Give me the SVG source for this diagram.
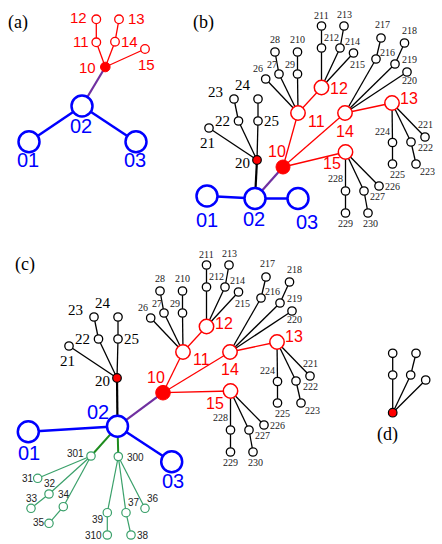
<svg xmlns="http://www.w3.org/2000/svg" width="442" height="544" viewBox="0 0 442 544">
<style>
.k{stroke:#000;stroke-width:1.3;fill:none}
.kt{stroke:#000;stroke-width:2.2;fill:none}
.r{stroke:#f00;stroke-width:1.3;fill:none}
.b{stroke:#00f;stroke-width:2.5;fill:none}
.p{stroke:#7030a0;stroke-width:2.2;fill:none}
.g{stroke:#1e8c1e;stroke-width:2;fill:none}
.gs{stroke:#3aa06a;stroke-width:1.2;fill:none}
.sn{fill:#fff;stroke:#000;stroke-width:1.3}
.rn{fill:#fff;stroke:#f00;stroke-width:1.5}
.rs{fill:#fff;stroke:#f00;stroke-width:1.3}
.rf{fill:#f00;stroke:#f00;stroke-width:1}
.rk{fill:#f00;stroke:#000;stroke-width:1.2}
.bn{fill:#fff;stroke:#00f;stroke-width:2.5}
.gn{fill:#fff;stroke:#3aa06a;stroke-width:1.2}
.ts{font-family:"Liberation Serif",serif;font-size:10px;fill:#222}
.tm{font-family:"Liberation Serif",serif;font-size:15px;fill:#000}
.tr{font-family:"Liberation Sans",sans-serif;font-size:16px;fill:#f00}
.tra{font-family:"Liberation Sans",sans-serif;font-size:15px;fill:#f00}
.tb{font-family:"Liberation Sans",sans-serif;font-size:20px;fill:#00f}
.tg{font-family:"Liberation Sans",sans-serif;font-size:10px;fill:#222}
.tp{font-family:"Liberation Serif",serif;font-size:18px;fill:#000}
</style>

<!-- ============ Panel (a) ============ -->
<text class="tp" x="8" y="28">(a)</text>
<g id="a-connectors">
<line class="r" x1="105.3" y1="67" x2="96.3" y2="42.3"/>
<line class="r" x1="105.3" y1="67" x2="115" y2="41.7"/>
<line class="r" x1="105.3" y1="67" x2="145" y2="49"/>
<line class="r" x1="96.3" y1="42.3" x2="96.3" y2="19.3"/>
<line class="r" x1="115" y1="41.7" x2="119" y2="19.3"/>
<line class="p" x1="105.3" y1="67" x2="82" y2="106"/>
<line class="b" x1="82" y1="106" x2="29" y2="141.7"/>
<line class="b" x1="82" y1="106" x2="136" y2="141.7"/>
</g>
<g id="a-n12"><circle class="rs" cx="96.3" cy="19.3" r="4.3"/><text class="tra" x="70" y="23">12</text></g>
<g id="a-n13"><circle class="rs" cx="119" cy="19.3" r="4.3"/><text class="tra" x="128" y="24">13</text></g>
<g id="a-n11"><circle class="rs" cx="96.3" cy="42.3" r="4.3"/><text class="tra" x="73" y="47">11</text></g>
<g id="a-n14"><circle class="rs" cx="115" cy="41.7" r="4.3"/><text class="tra" x="121" y="47">14</text></g>
<g id="a-n15"><circle class="rs" cx="145" cy="49" r="4.3"/><text class="tra" x="138" y="70">15</text></g>
<g id="a-n10"><circle class="rf" cx="105.3" cy="67" r="4.8"/><text class="tra" x="79" y="73">10</text></g>
<g id="a-n02"><circle class="bn" cx="82" cy="106" r="10.5"/><text class="tb" x="70" y="133">02</text></g>
<g id="a-n01"><circle class="bn" cx="29" cy="141.7" r="10.5"/><text class="tb" x="17" y="167">01</text></g>
<g id="a-n03"><circle class="bn" cx="136" cy="141.7" r="10.5"/><text class="tb" x="124" y="167">03</text></g>

<!-- ============ Panel (b) ============ -->
<text class="tp" x="193" y="28">(b)</text>
<g id="b-connectors">
<line class="k" x1="257" y1="160" x2="209" y2="128"/>
<line class="k" x1="257" y1="160" x2="238.5" y2="121"/>
<line class="k" x1="257" y1="160" x2="258" y2="121"/>
<line class="k" x1="238.5" y1="121" x2="234" y2="99"/>
<line class="k" x1="258" y1="121" x2="258" y2="99"/>
<line class="kt" x1="257" y1="160" x2="255" y2="198.5"/>
<line class="p" x1="283" y1="167" x2="255" y2="198.5"/>
<line class="b" x1="207" y1="196" x2="255" y2="198.5"/>
<line class="b" x1="255" y1="198.5" x2="298" y2="198.5"/>
<line class="r" x1="283" y1="167" x2="298" y2="113"/>
<line class="r" x1="283" y1="167" x2="345" y2="113"/>
<line class="r" x1="283" y1="167" x2="345.5" y2="152"/>
</g>
<g id="b-sub">
<g id="b-sub-connectors">
<line class="r" x1="345" y1="113" x2="392" y2="103"/>
<line class="r" x1="298" y1="113" x2="321.5" y2="87.5"/>
<line class="k" x1="298" y1="113" x2="265.7" y2="79"/>
<line class="k" x1="298" y1="113" x2="279" y2="74"/>
<line class="k" x1="298" y1="113" x2="297.5" y2="74"/>
<line class="k" x1="279" y1="74" x2="275" y2="52"/>
<line class="k" x1="297.5" y1="74" x2="297.5" y2="52"/>
<line class="k" x1="321.5" y1="87.5" x2="321.5" y2="48"/>
<line class="k" x1="321.5" y1="87.5" x2="340" y2="48"/>
<line class="k" x1="321.5" y1="87.5" x2="353.5" y2="53"/>
<line class="k" x1="321.5" y1="48" x2="321.5" y2="26"/>
<line class="k" x1="340" y1="48" x2="344" y2="26"/>
<line class="k" x1="345" y1="113" x2="376" y2="59"/>
<line class="k" x1="345" y1="113" x2="395" y2="64"/>
<line class="k" x1="345" y1="113" x2="407" y2="72"/>
<line class="k" x1="376" y1="59" x2="381" y2="38"/>
<line class="k" x1="395" y1="64" x2="404.5" y2="43"/>
<line class="k" x1="392" y1="103" x2="392.5" y2="142.5"/>
<line class="k" x1="392" y1="103" x2="411" y2="142"/>
<line class="k" x1="392" y1="103" x2="425" y2="137"/>
<line class="k" x1="392.5" y1="142.5" x2="392.5" y2="164"/>
<line class="k" x1="411" y1="142" x2="416" y2="164"/>
<line class="k" x1="345.5" y1="152" x2="345.5" y2="191"/>
<line class="k" x1="345.5" y1="152" x2="364" y2="191"/>
<line class="k" x1="345.5" y1="152" x2="379" y2="186"/>
<line class="k" x1="345.5" y1="191" x2="345.5" y2="213"/>
<line class="k" x1="364" y1="191" x2="368" y2="213"/>
</g>
<g id="b-n11"><circle class="rn" cx="298" cy="113" r="7.2"/><text class="tr" x="308" y="127">11</text></g>
<g id="b-n12"><circle class="rn" cx="321.5" cy="87.5" r="7.2"/><text class="tr" x="330" y="93.5">12</text></g>
<g id="b-n13"><circle class="rn" cx="392" cy="103" r="7.2"/><text class="tr" x="400" y="103.5">13</text></g>
<g id="b-n14"><circle class="rn" cx="345" cy="113" r="7.2"/><text class="tr" x="336" y="137">14</text></g>
<g id="b-n15"><circle class="rn" cx="345.5" cy="152" r="7.2"/><text class="tr" x="323" y="169">15</text></g>
<g id="b-n26"><circle class="sn" cx="265.7" cy="79" r="4.2"/><text class="ts" x="253" y="72">26</text></g>
<g id="b-n27"><circle class="sn" cx="279" cy="74" r="4.2"/><text class="ts" x="267" y="68">27</text></g>
<g id="b-n28"><circle class="sn" cx="275" cy="52" r="4.2"/><text class="ts" x="270" y="43">28</text></g>
<g id="b-n29"><circle class="sn" cx="297.5" cy="74" r="4.2"/><text class="ts" x="285" y="68">29</text></g>
<g id="b-n210"><circle class="sn" cx="297.5" cy="52" r="4.2"/><text class="ts" x="290" y="43">210</text></g>
<g id="b-n211"><circle class="sn" cx="321.5" cy="26" r="4.2"/><text class="ts" x="314" y="18.5">211</text></g>
<g id="b-n212"><circle class="sn" cx="321.5" cy="48" r="4.2"/><text class="ts" x="324" y="41">212</text></g>
<g id="b-n213"><circle class="sn" cx="344" cy="26" r="4.2"/><text class="ts" x="337" y="18">213</text></g>
<g id="b-n214"><circle class="sn" cx="340" cy="48" r="4.2"/><text class="ts" x="345" y="45">214</text></g>
<g id="b-n215"><circle class="sn" cx="353.5" cy="53" r="4.2"/><text class="ts" x="350" y="68">215</text></g>
<g id="b-n216"><circle class="sn" cx="376" cy="59" r="4.2"/><text class="ts" x="380" y="56">216</text></g>
<g id="b-n217"><circle class="sn" cx="381" cy="38" r="4.2"/><text class="ts" x="375" y="28">217</text></g>
<g id="b-n218"><circle class="sn" cx="404.5" cy="43" r="4.2"/><text class="ts" x="402" y="34">218</text></g>
<g id="b-n219"><circle class="sn" cx="395" cy="64" r="4.2"/><text class="ts" x="402" y="63">219</text></g>
<g id="b-n220"><circle class="sn" cx="407" cy="72" r="4.2"/><text class="ts" x="402" y="84">220</text></g>
<g id="b-n221"><circle class="sn" cx="425" cy="137" r="4.2"/><text class="ts" x="418" y="128">221</text></g>
<g id="b-n222"><circle class="sn" cx="411" cy="142" r="4.2"/><text class="ts" x="418" y="151">222</text></g>
<g id="b-n223"><circle class="sn" cx="416" cy="164" r="4.2"/><text class="ts" x="420" y="175">223</text></g>
<g id="b-n224"><circle class="sn" cx="392.5" cy="142.5" r="4.2"/><text class="ts" x="375" y="135">224</text></g>
<g id="b-n225"><circle class="sn" cx="392.5" cy="164" r="4.2"/><text class="ts" x="390" y="178">225</text></g>
<g id="b-n226"><circle class="sn" cx="379" cy="186" r="4.2"/><text class="ts" x="385" y="190">226</text></g>
<g id="b-n227"><circle class="sn" cx="364" cy="191" r="4.2"/><text class="ts" x="370" y="200">227</text></g>
<g id="b-n228"><circle class="sn" cx="345.5" cy="191" r="4.2"/><text class="ts" x="328" y="182">228</text></g>
<g id="b-n229"><circle class="sn" cx="345.5" cy="213" r="4.2"/><text class="ts" x="338" y="227">229</text></g>
<g id="b-n230"><circle class="sn" cx="368" cy="213" r="4.2"/><text class="ts" x="363" y="227">230</text></g>
</g>
<g id="b-n21"><circle class="sn" cx="209" cy="128" r="4.2"/><text class="tm" x="200" y="148">21</text></g>
<g id="b-n22"><circle class="sn" cx="238.5" cy="121" r="4.2"/><text class="tm" x="215" y="126">22</text></g>
<g id="b-n23"><circle class="sn" cx="234" cy="99" r="4.2"/><text class="tm" x="208" y="97">23</text></g>
<g id="b-n24"><circle class="sn" cx="258" cy="99" r="4.2"/><text class="tm" x="235" y="90">24</text></g>
<g id="b-n25"><circle class="sn" cx="258" cy="121" r="4.2"/><text class="tm" x="264" y="126">25</text></g>
<g id="b-n20"><circle class="rk" cx="257" cy="160" r="4.3"/><text class="tm" x="235" y="168">20</text></g>
<g id="b-n10"><circle class="rf" cx="283" cy="167" r="7"/><text class="tr" x="268" y="157">10</text></g>
<g id="b-n01"><circle class="bn" cx="207" cy="196" r="10.5"/><text class="tb" x="196" y="227">01</text></g>
<g id="b-n02"><circle class="bn" cx="255" cy="198.5" r="10.5"/><text class="tb" x="243" y="226">02</text></g>
<g id="b-n03"><circle class="bn" cx="298" cy="198.5" r="10.5"/><text class="tb" x="296" y="229">03</text></g>

<!-- ============ Panel (c) ============ -->
<text class="tp" x="15" y="270">(c)</text>
<g id="c-connectors">
<line class="r" x1="163" y1="392.7" x2="183" y2="352"/>
<line class="r" x1="163" y1="392.7" x2="230" y2="352"/>
<line class="r" x1="163" y1="392.7" x2="230.5" y2="391"/>
<line class="p" x1="163" y1="392.7" x2="117.5" y2="426.3"/>
<line class="kt" x1="117.5" y1="426.3" x2="117" y2="378"/>
<line class="b" x1="117.5" y1="426.3" x2="28.3" y2="431.7"/>
<line class="b" x1="117.5" y1="426.3" x2="171.7" y2="461.8"/>
<line class="g" x1="117.5" y1="426.3" x2="91" y2="456"/>
<line class="g" x1="117.5" y1="426.3" x2="118.3" y2="456.5"/>
<line class="gs" x1="91" y1="456" x2="37.7" y2="478.3"/>
<line class="gs" x1="91" y1="456" x2="49" y2="494"/>
<line class="gs" x1="91" y1="456" x2="63.3" y2="506.7"/>
<line class="gs" x1="49" y1="494" x2="31" y2="508.3"/>
<line class="gs" x1="63.3" y1="506.7" x2="49" y2="523.3"/>
<line class="gs" x1="118.3" y1="456.5" x2="145" y2="508.3"/>
<line class="gs" x1="118.3" y1="456.5" x2="126" y2="512.7"/>
<line class="gs" x1="118.3" y1="456.5" x2="107.3" y2="512.7"/>
<line class="gs" x1="126" y1="512.7" x2="131" y2="535"/>
<line class="gs" x1="107.3" y1="512.7" x2="107.3" y2="535"/>
<g transform="translate(-140,218)">
<line class="k" x1="257" y1="160" x2="209" y2="128"/>
<line class="k" x1="257" y1="160" x2="238.5" y2="121"/>
<line class="k" x1="257" y1="160" x2="258" y2="121"/>
<line class="k" x1="238.5" y1="121" x2="234" y2="99"/>
<line class="k" x1="258" y1="121" x2="258" y2="99"/>
</g>
<g transform="translate(-115,239)">
<line class="r" x1="345" y1="113" x2="392" y2="103"/>
<line class="r" x1="298" y1="113" x2="321.5" y2="87.5"/>
<line class="k" x1="298" y1="113" x2="265.7" y2="79"/>
<line class="k" x1="298" y1="113" x2="279" y2="74"/>
<line class="k" x1="298" y1="113" x2="297.5" y2="74"/>
<line class="k" x1="279" y1="74" x2="275" y2="52"/>
<line class="k" x1="297.5" y1="74" x2="297.5" y2="52"/>
<line class="k" x1="321.5" y1="87.5" x2="321.5" y2="48"/>
<line class="k" x1="321.5" y1="87.5" x2="340" y2="48"/>
<line class="k" x1="321.5" y1="87.5" x2="353.5" y2="53"/>
<line class="k" x1="321.5" y1="48" x2="321.5" y2="26"/>
<line class="k" x1="340" y1="48" x2="344" y2="26"/>
<line class="k" x1="345" y1="113" x2="376" y2="59"/>
<line class="k" x1="345" y1="113" x2="395" y2="64"/>
<line class="k" x1="345" y1="113" x2="407" y2="72"/>
<line class="k" x1="376" y1="59" x2="381" y2="38"/>
<line class="k" x1="395" y1="64" x2="404.5" y2="43"/>
<line class="k" x1="392" y1="103" x2="392.5" y2="142.5"/>
<line class="k" x1="392" y1="103" x2="411" y2="142"/>
<line class="k" x1="392" y1="103" x2="425" y2="137"/>
<line class="k" x1="392.5" y1="142.5" x2="392.5" y2="164"/>
<line class="k" x1="411" y1="142" x2="416" y2="164"/>
<line class="k" x1="345.5" y1="152" x2="345.5" y2="191"/>
<line class="k" x1="345.5" y1="152" x2="364" y2="191"/>
<line class="k" x1="345.5" y1="152" x2="379" y2="186"/>
<line class="k" x1="345.5" y1="191" x2="345.5" y2="213"/>
<line class="k" x1="364" y1="191" x2="368" y2="213"/>
</g>
</g>
<g transform="translate(-115,239)">
<g id="c-n11"><circle class="rn" cx="298" cy="113" r="7.2"/><text class="tr" x="308" y="126">11</text></g>
<g id="c-n12"><circle class="rn" cx="321.5" cy="87.5" r="7.2"/><text class="tr" x="330" y="90">12</text></g>
<g id="c-n13"><circle class="rn" cx="392" cy="103" r="7.2"/><text class="tr" x="400" y="103">13</text></g>
<g id="c-n14"><circle class="rn" cx="345" cy="113" r="7.2"/><text class="tr" x="336" y="136">14</text></g>
<g id="c-n15"><circle class="rn" cx="345.5" cy="152" r="7.2"/><text class="tr" x="321" y="170">15</text></g>
<g id="c-n26"><circle class="sn" cx="265.7" cy="79" r="4.2"/><text class="ts" x="253" y="72">26</text></g>
<g id="c-n27"><circle class="sn" cx="279" cy="74" r="4.2"/><text class="ts" x="267" y="68">27</text></g>
<g id="c-n28"><circle class="sn" cx="275" cy="52" r="4.2"/><text class="ts" x="270" y="43">28</text></g>
<g id="c-n29"><circle class="sn" cx="297.5" cy="74" r="4.2"/><text class="ts" x="285" y="68">29</text></g>
<g id="c-n210"><circle class="sn" cx="297.5" cy="52" r="4.2"/><text class="ts" x="290" y="43">210</text></g>
<g id="c-n211"><circle class="sn" cx="321.5" cy="26" r="4.2"/><text class="ts" x="314" y="18.5">211</text></g>
<g id="c-n212"><circle class="sn" cx="321.5" cy="48" r="4.2"/><text class="ts" x="324" y="41">212</text></g>
<g id="c-n213"><circle class="sn" cx="344" cy="26" r="4.2"/><text class="ts" x="337" y="18">213</text></g>
<g id="c-n214"><circle class="sn" cx="340" cy="48" r="4.2"/><text class="ts" x="345" y="45">214</text></g>
<g id="c-n215"><circle class="sn" cx="353.5" cy="53" r="4.2"/><text class="ts" x="350" y="68">215</text></g>
<g id="c-n216"><circle class="sn" cx="376" cy="59" r="4.2"/><text class="ts" x="380" y="56">216</text></g>
<g id="c-n217"><circle class="sn" cx="381" cy="38" r="4.2"/><text class="ts" x="375" y="28">217</text></g>
<g id="c-n218"><circle class="sn" cx="404.5" cy="43" r="4.2"/><text class="ts" x="402" y="34">218</text></g>
<g id="c-n219"><circle class="sn" cx="395" cy="64" r="4.2"/><text class="ts" x="402" y="63">219</text></g>
<g id="c-n220"><circle class="sn" cx="407" cy="72" r="4.2"/><text class="ts" x="402" y="84">220</text></g>
<g id="c-n221"><circle class="sn" cx="425" cy="137" r="4.2"/><text class="ts" x="418" y="128">221</text></g>
<g id="c-n222"><circle class="sn" cx="411" cy="142" r="4.2"/><text class="ts" x="418" y="151">222</text></g>
<g id="c-n223"><circle class="sn" cx="416" cy="164" r="4.2"/><text class="ts" x="420" y="175">223</text></g>
<g id="c-n224"><circle class="sn" cx="392.5" cy="142.5" r="4.2"/><text class="ts" x="375" y="135">224</text></g>
<g id="c-n225"><circle class="sn" cx="392.5" cy="164" r="4.2"/><text class="ts" x="390" y="178">225</text></g>
<g id="c-n226"><circle class="sn" cx="379" cy="186" r="4.2"/><text class="ts" x="385" y="190">226</text></g>
<g id="c-n227"><circle class="sn" cx="364" cy="191" r="4.2"/><text class="ts" x="370" y="200">227</text></g>
<g id="c-n228"><circle class="sn" cx="345.5" cy="191" r="4.2"/><text class="ts" x="328" y="182">228</text></g>
<g id="c-n229"><circle class="sn" cx="345.5" cy="213" r="4.2"/><text class="ts" x="338" y="227">229</text></g>
<g id="c-n230"><circle class="sn" cx="368" cy="213" r="4.2"/><text class="ts" x="363" y="227">230</text></g>
</g>
<g transform="translate(-140,218)">
<g id="c-n21"><circle class="sn" cx="209" cy="128" r="4.2"/><text class="tm" x="200" y="148">21</text></g>
<g id="c-n22"><circle class="sn" cx="238.5" cy="121" r="4.2"/><text class="tm" x="215" y="126">22</text></g>
<g id="c-n23"><circle class="sn" cx="234" cy="99" r="4.2"/><text class="tm" x="208" y="97">23</text></g>
<g id="c-n24"><circle class="sn" cx="258" cy="99" r="4.2"/><text class="tm" x="235" y="90">24</text></g>
<g id="c-n25"><circle class="sn" cx="258" cy="121" r="4.2"/><text class="tm" x="264" y="126">25</text></g>
<g id="c-n20"><circle class="rk" cx="257" cy="160" r="4.3"/><text class="tm" x="235" y="168">20</text></g>
</g>
<g id="c-n10"><circle class="rf" cx="163" cy="392.7" r="7.3"/><text class="tr" x="147" y="383">10</text></g>
<g id="c-n02"><circle class="bn" cx="117.5" cy="426.3" r="10.5"/><text class="tb" x="87" y="419">02</text></g>
<g id="c-n01"><circle class="bn" cx="28.3" cy="431.7" r="10.5"/><text class="tb" x="18" y="460">01</text></g>
<g id="c-n03"><circle class="bn" cx="171.7" cy="461.8" r="10.5"/><text class="tb" x="162" y="488">03</text></g>
<g id="c-n301"><circle class="gn" cx="91" cy="456" r="4.2"/><text class="tg" x="67" y="457">301</text></g>
<g id="c-n300"><circle class="gn" cx="118.3" cy="456.5" r="4.2"/><text class="tg" x="127" y="461">300</text></g>
<g id="c-n31"><circle class="gn" cx="37.7" cy="478.3" r="4.2"/><text class="tg" x="22" y="482">31</text></g>
<g id="c-n32"><circle class="gn" cx="49" cy="494" r="4.2"/><text class="tg" x="44" y="487">32</text></g>
<g id="c-n33"><circle class="gn" cx="31" cy="508.3" r="4.2"/><text class="tg" x="26" y="502">33</text></g>
<g id="c-n34"><circle class="gn" cx="63.3" cy="506.7" r="4.2"/><text class="tg" x="58" y="498">34</text></g>
<g id="c-n35"><circle class="gn" cx="49" cy="523.3" r="4.2"/><text class="tg" x="33" y="526">35</text></g>
<g id="c-n36"><circle class="gn" cx="145" cy="508.3" r="4.2"/><text class="tg" x="147" y="502">36</text></g>
<g id="c-n37"><circle class="gn" cx="126" cy="512.7" r="4.2"/><text class="tg" x="128" y="506">37</text></g>
<g id="c-n38"><circle class="gn" cx="131" cy="535" r="4.2"/><text class="tg" x="137" y="538.5">38</text></g>
<g id="c-n39"><circle class="gn" cx="107.3" cy="512.7" r="4.2"/><text class="tg" x="92" y="523">39</text></g>
<g id="c-n310"><circle class="gn" cx="107.3" cy="535" r="4.2"/><text class="tg" x="85" y="538.5">310</text></g>

<!-- ============ Panel (d) ============ -->
<g id="d-connectors">
<line class="k" x1="392.7" y1="412.7" x2="392.7" y2="375"/>
<line class="k" x1="392.7" y1="412.7" x2="410.7" y2="375"/>
<line class="k" x1="392.7" y1="412.7" x2="425.7" y2="380"/>
<line class="k" x1="392.7" y1="375" x2="392.7" y2="353.3"/>
<line class="k" x1="410.7" y1="375" x2="416" y2="353.3"/>
</g>
<g id="d-n1"><circle class="sn" cx="392.7" cy="353.3" r="4.2"/></g>
<g id="d-n2"><circle class="sn" cx="416" cy="353.3" r="4.2"/></g>
<g id="d-n3"><circle class="sn" cx="392.7" cy="375" r="4.2"/></g>
<g id="d-n4"><circle class="sn" cx="410.7" cy="375" r="4.2"/></g>
<g id="d-n5"><circle class="sn" cx="425.7" cy="380" r="4.2"/></g>
<g id="d-root"><circle class="rk" cx="392.7" cy="412.7" r="4.3"/></g>
<text class="tp" x="377" y="440">(d)</text>
</svg>
